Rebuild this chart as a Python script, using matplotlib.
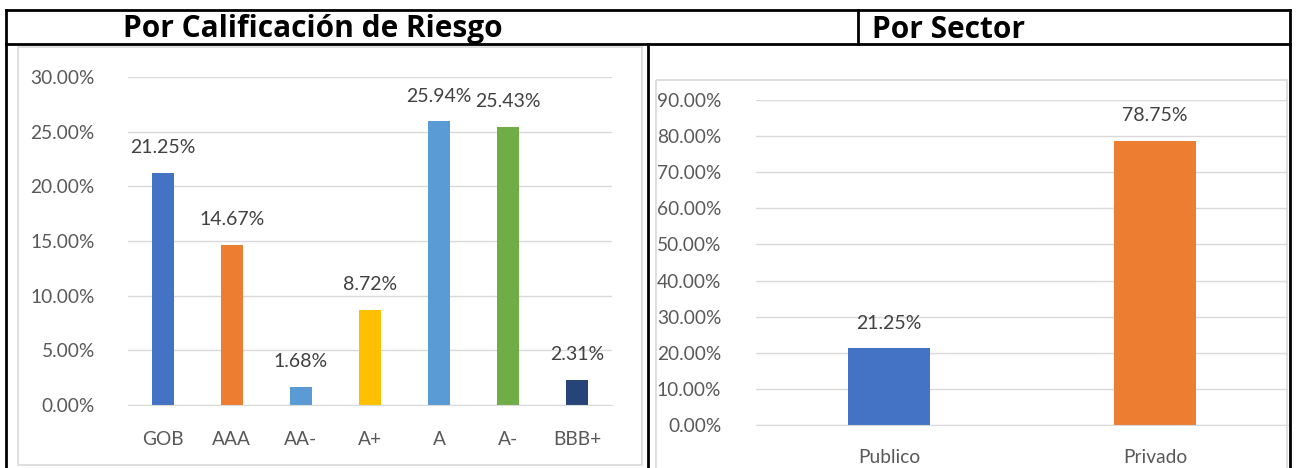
import matplotlib.pyplot as plt
from matplotlib.patches import Rectangle
from matplotlib.ticker import FuncFormatter

plt.rcParams['font.family'] = ['Lato', 'DejaVu Sans']

# datos
ratings = ["GOB", "AAA", "AA-", "A+", "A", "A-", "BBB+"]
rating_values = [21.25, 14.67, 1.68, 8.72, 25.94, 25.43, 2.31]
rating_colors = ["#4472C4", "#ED7D31", "#5B9BD5", "#FFC000", "#5B9BD5", "#70AD47", "#264478"]

sectors = ["Publico", "Privado"]
sector_values = [21.25, 78.75]
sector_colors = ["#4472C4", "#ED7D31"]

W, H = 1297, 468
TICK_C = "#595959"
LABEL_C = "#404040"
GRID_C = "#D9D9D9"

fig = plt.figure(figsize=(W / 100, H / 100), dpi=100)
fig.patch.set_facecolor("white")


def px_axes(x0, y0, x1, y1):
    # pixel box (top-left origin) -> figure axes
    return fig.add_axes([x0 / W, 1 - y1 / H, (x1 - x0) / W, (y1 - y0) / H])


def style_bar_axes(ax, ymax, step, ypad):
    ax.set_ylim(0, ymax)
    ax.set_yticks([i * step for i in range(int(round(ymax / step)) + 1)])
    ax.yaxis.set_major_formatter(FuncFormatter(lambda v, p: f"{v:.2f}%"))
    ax.grid(axis="y", color=GRID_C, linewidth=1)
    ax.set_axisbelow(True)
    for s in ["top", "right", "left"]:
        ax.spines[s].set_visible(False)
    ax.spines["bottom"].set_color(GRID_C)
    ax.tick_params(axis="both", length=0, colors=TICK_C, labelsize=13.8)
    ax.tick_params(axis="y", pad=ypad)
    ax.set_facecolor("none")


# overlay in pixel coordinates for the table frame
frame = fig.add_axes([0, 0, 1, 1])
frame.set_xlim(0, W)
frame.set_ylim(H, 0)
frame.axis("off")

# chart boxes (light gray)
frame.add_patch(Rectangle((18, 47), 624, 418, fill=False, edgecolor=GRID_C, linewidth=1.2))
frame.add_patch(Rectangle((656, 80), 631, 400, fill=False, edgecolor=GRID_C, linewidth=1.2))

# table lines (black)
lw = 2
frame.plot([6, 1290], [10, 10], color="black", lw=lw)
frame.plot([6, 1290], [44, 44], color="black", lw=lw)
frame.plot([6, 6], [10, H], color="black", lw=lw)
frame.plot([1290, 1290], [10, H], color="black", lw=lw)
frame.plot([858, 858], [10, 44], color="black", lw=lw)
frame.plot([648, 648], [44, H], color="black", lw=lw)

frame.text(313, 29.5, "Por Calificación de Riesgo", ha="center", va="center",
           fontsize=21.5, fontweight="bold", color="black", family="Open Sans")
frame.text(872, 29.5, "Por Sector", ha="left", va="center",
           fontsize=21.5, fontweight="bold", color="black", family="Open Sans")

# grafico izquierdo
ax1 = px_axes(128, 77, 612, 405)
x1 = range(len(ratings))
bars1 = ax1.bar(x1, rating_values, width=0.32, color=rating_colors)
ax1.set_xlim(-0.5, len(ratings) - 0.5)
ax1.set_xticks(list(x1))
ax1.set_xticklabels(ratings)
style_bar_axes(ax1, 30, 5, 24)
ax1.tick_params(axis="x", pad=19)
for b, v in zip(bars1, rating_values):
    ax1.annotate(f"{v:.2f}%", (b.get_x() + b.get_width() / 2, v), xytext=(0, 12),
                 textcoords="offset points", ha="center", va="bottom",
                 fontsize=14, color=LABEL_C)

# grafico derecho
ax2 = px_axes(756, 100, 1288, 425)
x2 = range(len(sectors))
bars2 = ax2.bar(x2, sector_values, width=0.31, color=sector_colors)
ax2.set_xlim(-0.5, len(sectors) - 0.5)
ax2.set_xticks(list(x2))
ax2.set_xticklabels(sectors)
style_bar_axes(ax2, 90, 10, 25)
ax2.tick_params(axis="x", pad=17)
for b, v in zip(bars2, sector_values):
    ax2.annotate(f"{v:.2f}%", (b.get_x() + b.get_width() / 2, v), xytext=(0, 12),
                 textcoords="offset points", ha="center", va="bottom",
                 fontsize=14, color=LABEL_C)

fig.savefig("out.png", dpi=100)
